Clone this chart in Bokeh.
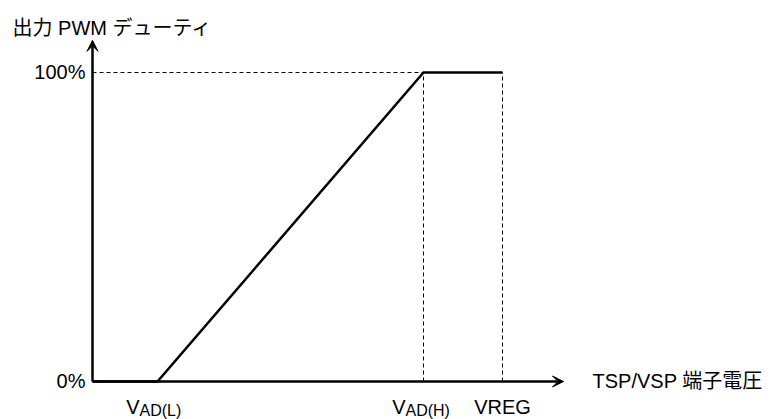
from bokeh.plotting import figure
from bokeh.models import Arrow, VeeHead
from bokeh.core.properties import value
from bokeh.embed import file_html
from bokeh.resources import INLINE

# ---- data ----
# characteristic: output PWM duty (%) vs TSP/VSP pin voltage (arbitrary units)
volts = [0.0, 0.65, 3.31, 4.10]
duty = [0, 0, 100, 100]

# marked voltages on the x axis
x_main = ["V", "V", "VREG"]
x_sub = ["AD(L)", "AD(H)", ""]
x_marks = [0.65, 3.31, 4.10]

# y tick labels
y_ticks = [0, 100]
y_labels = ["0%", "100%"]

x_axis_end = 4.71
y_axis_end = 110.4
x_title = "TSP/VSP 端子電圧"
y_title = "出力 PWM デューティ"

FONT = value("Liberation Sans, Noto Sans CJK JP")
LATIN = value("Liberation Sans")

W, H = 774, 419
p = figure(width=W, height=H, output_backend="svg", toolbar_location=None,
           x_range=(-0.92, 6.82), y_range=(-12.30, 123.30),
           x_axis_location=None, y_axis_location=None, min_border=0,
           outline_line_color=None, background_fill_color="white")
p.xgrid.visible = False
p.ygrid.visible = False

# dashed guides
p.segment(x0=[0, x_marks[1], x_marks[2]], y0=[100, 0, 0],
          x1=[x_marks[1], x_marks[1], x_marks[2]], y1=[100, 100, 100],
          line_color="black", line_width=1, line_dash="4 3")

# axes with arrows
p.add_layout(Arrow(x_start=0, y_start=0, x_end=x_axis_end, y_end=0,
                   line_width=2.5, line_color="black",
                   end=VeeHead(size=11, fill_color="black", line_color="black", line_width=1)))
p.add_layout(Arrow(x_start=0, y_start=0, x_end=0, y_end=y_axis_end,
                   line_width=2.5, line_color="black",
                   end=VeeHead(size=11, fill_color="black", line_color="black", line_width=1)))

# characteristic curve
p.line(volts, duty, line_color="black", line_width=2.5, line_join="miter")

# y tick labels
p.text(x=[0, 0], y=y_ticks, text=y_labels, x_offset=-7,
       text_align="right", text_baseline="middle",
       text_font=LATIN, text_font_size="20px", text_color="black")

# x labels: main + subscript
p.text(x=x_marks[:2], y=[0, 0], text=x_main[:2], x_offset=-18, y_offset=26,
       text_align="right", text_baseline="alphabetic",
       text_font=LATIN, text_font_size="20px", text_color="black")
p.text(x=x_marks[:2], y=[0, 0], text=x_sub[:2], x_offset=-18, y_offset=29,
       text_align="left", text_baseline="alphabetic",
       text_font=LATIN, text_font_size="16px", text_color="black")
p.text(x=[x_marks[2]], y=[0], text=[x_main[2]], x_offset=0, y_offset=26,
       text_align="center", text_baseline="alphabetic",
       text_font=LATIN, text_font_size="20px", text_color="black")

# axis titles
p.text(x=[x_axis_end], y=[0], text=[x_title], x_offset=29,
       text_align="left", text_baseline="middle",
       text_font=FONT, text_font_size="20px", text_color="black")
p.text(x=[0], y=[y_axis_end], text=[y_title], x_offset=-80, y_offset=-12,
       text_align="left", text_baseline="alphabetic",
       text_font=FONT, text_font_size="20px", text_color="black")

open("out.html", "w").write(file_html(p, INLINE))
